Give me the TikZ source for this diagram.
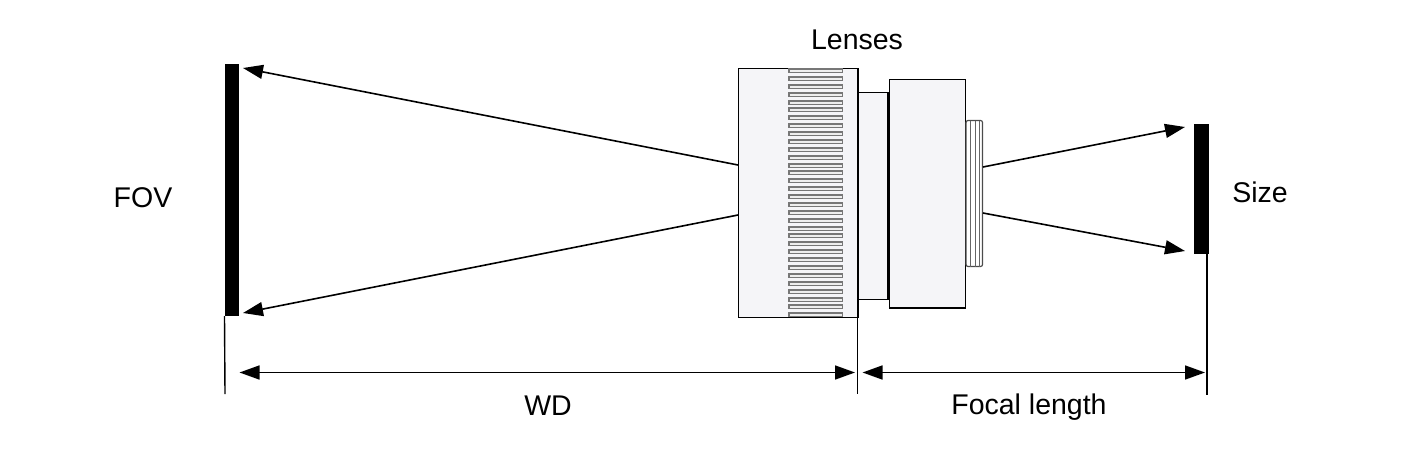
\documentclass[tikz,border=0pt]{standalone}
\usepackage{fontspec}
\setmainfont{Liberation Sans}
\usetikzlibrary{arrows.meta}
\tikzstyle{lensbody} = [draw, fill=lensgray, line width=1.3pt, inner sep=0pt, outer sep=0pt]
\tikzstyle{lensrib} = [draw=ribgray, fill=ribfill, line width=1.5pt, minimum width=53.5, minimum height=3.5, inner sep=0pt, outer sep=0pt]
\tikzstyle{screen} = [fill=black, minimum width=14.5, inner sep=0pt, outer sep=0pt]
\tikzstyle{label} = [font=\fontsize{28.5}{32}\selectfont, inner sep=0pt]
\tikzstyle{ray} = [-{Triangle[length=20pt,width=14pt]}, line width=1.6pt]
\tikzstyle{dimension} = [{Triangle[length=20pt,width=14pt]}-{Triangle[length=20pt,width=14pt]}, line width=1.6pt]
\definecolor{lensgray}{HTML}{F5F5F8}
\definecolor{ribgray}{HTML}{777777}
\definecolor{ribfill}{HTML}{EEEEEE}
\begin{document}
\begin{tikzpicture}[x=1pt,y=-1pt]
\useasboundingbox (0,0) rectangle (1402,450);

\node (fovscreen) at (231.75,190) [screen, minimum height=252] {};
\node (sizescreen) at (1201.5,189) [screen, minimum height=130] {};

\node (barrel) at (798.25,193) [lensbody, minimum width=119.5, minimum height=249] {};
\foreach \i [evaluate=\i as \ribpos using {int(70.5+7.88*\i)+0.5}] in {0,...,31}
  \node (rib\i) at (815.5,\ribpos) [lensrib] {};
\node (spacer) at (873,195.75) [lensbody, minimum width=30, minimum height=207] {};
\draw [line width=2.5pt] (spacer.north east) -- (spacer.south east);
\node (rear) at (927.5,193.75) [lensbody, minimum width=76, minimum height=228.5] {};
\node (mount) at (974.25,193.5) [lensbody, draw=black!70, line width=1.2pt, fill=white, rounded corners=2pt, minimum width=16.5, minimum height=146] {};
\foreach \x in {-3.5,0.75,4.75}
  \draw [black!60, line width=1pt] ([xshift=\x]mount.north) -- ([xshift=\x]mount.south);

\coordinate (barreltop) at (738,165);
\coordinate (barrelbottom) at (738,215);
\coordinate (mounttop) at (983,167);
\coordinate (mountbottom) at (983,213);
\coordinate (fovtip) at (243,68);
\coordinate (fovbottomtip) at (243,313);
\coordinate (sizetip) at (1185,127);
\coordinate (sizebottomtip) at (1185,251);

\draw [ray] (barreltop) -- (fovtip);
\draw [ray] (barrelbottom) -- (fovbottomtip);
\draw [ray] (mounttop) -- (sizetip);
\draw [ray] (mountbottom) -- (sizebottomtip);

\coordinate (fovfoot) at (225,394);
\coordinate (barrelfoot) at (857.5,394);
\coordinate (sizefoot) at (1207,395);
\draw [line width=1.4pt] (fovscreen.south west) -- (fovfoot);
\draw [line width=1.4pt] (barrel.south east -| barrelfoot) -- (barrelfoot);
\draw [line width=1.4pt] (sizescreen.south east -| sizefoot) -- (sizefoot);

\coordinate (wdleft) at (239.5,372.5);
\coordinate (wdright) at (855,372.5);
\coordinate (focalleft) at (862.5,372.5);
\coordinate (focalright) at (1205,372.5);
\draw [dimension] (wdleft) -- (wdright);
\draw [dimension] (focalleft) -- (focalright);

\node (lenses) at (857,40) [label] {Lenses};
\node (fov) at (143,198) [label] {FOV};
\node (size) at (1260,192) [label] {Size};
\node (wd) at (548,406) [label] {WD};
\node (focal) at (1029,407) [label] {Focal length};
\end{tikzpicture}
\end{document}
